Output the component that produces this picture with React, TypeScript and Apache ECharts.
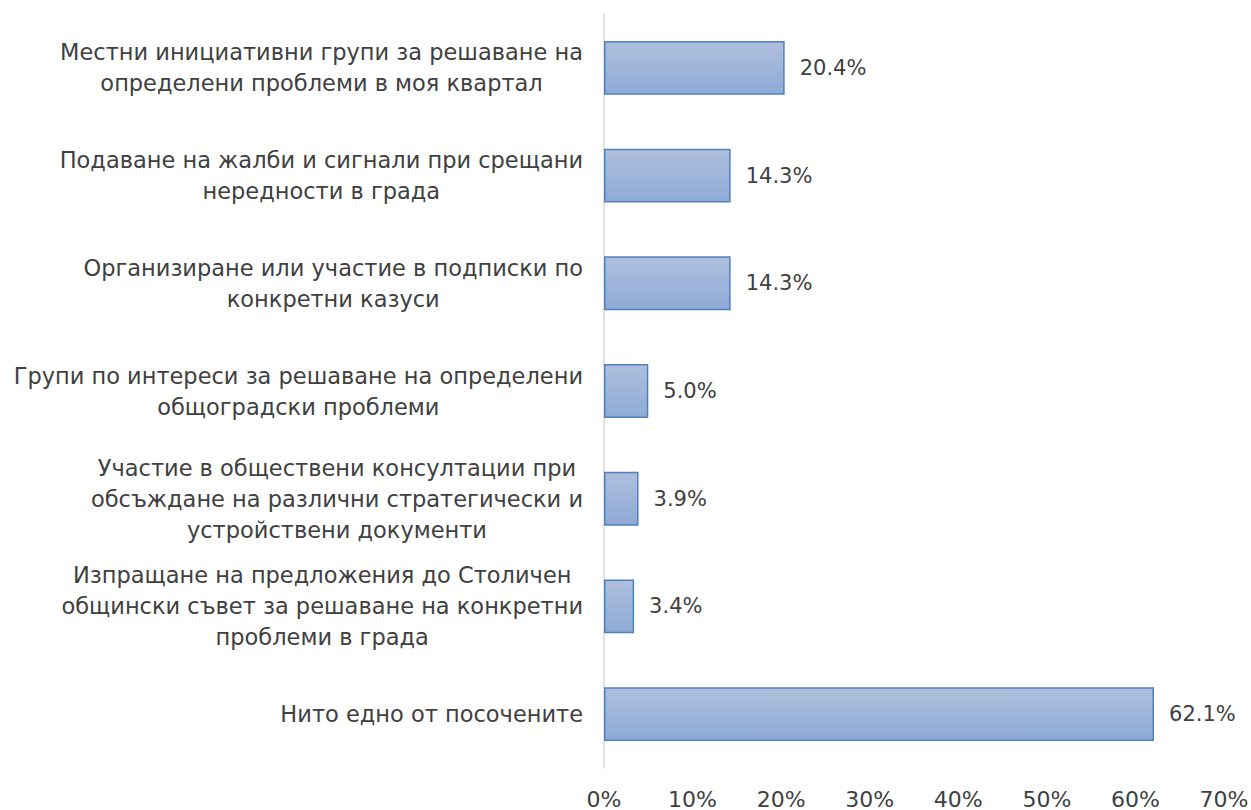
import React, { useEffect, useRef } from "react";
import * as echarts from "echarts";

const categories: string[] = [
  "Местни инициативни групи за решаване на\nопределени проблеми в моя квартал",
  "Подаване на жалби и сигнали при срещани\nнередности в града",
  "Организиране или участие в подписки по\nконкретни казуси",
  "Групи по интереси за решаване на определени\nобщоградски проблеми",
  "Участие в обществени консултации при\nобсъждане на различни стратегически и\nустройствени документи",
  "Изпращане на предложения до Столичен\nобщински съвет за решаване на конкретни\nпроблеми в града",
  "Нито едно от посочените",
];
const values: number[] = [20.4, 14.3, 14.3, 5.0, 3.9, 3.4, 62.1];
const axisMax = 70;
const axisStep = 10;

const FONT = "'DejaVu Sans', sans-serif";

export default function App() {
  const ref = useRef<HTMLDivElement>(null);
  useEffect(() => {
    if (!ref.current) return;
    const chart = echarts.init(ref.current, undefined, { renderer: "svg" });
    chart.setOption({
      animation: false,
      textStyle: { fontFamily: FONT },
      grid: { left: 604, right: 27, top: 14, bottom: 42, outerBoundsMode: "none", containLabel: false },
      xAxis: {
        type: "value",
        min: 0,
        max: axisMax,
        interval: axisStep,
        axisLine: { show: false },
        axisTick: { show: false },
        splitLine: { show: false },
        axisLabel: {
          formatter: (v: number) => v + "%",
          color: "#404040",
          fontSize: 22,
          lineHeight: 18,
          fontFamily: FONT,
          margin: 22,
        },
      },
      yAxis: {
        type: "category",
        data: categories,
        inverse: true,
        axisLine: { show: true, lineStyle: { color: "#d9d9d9", width: 1.5 } },
        axisTick: { show: false },
        axisLabel: {
          margin: 21,
          align: "right",
          formatter: (v: string) =>
            v
              .split("\n")
              .map((l) => "{c|" + l + "}")
              .join("\n"),
          rich: {
            c: {
              align: "center",
              color: "#404040",
              fontSize: 22.5,
              fontFamily: FONT,
              lineHeight: 31,
            },
          },
        },
      },
      series: [
        {
          type: "bar",
          data: values,
          barWidth: "50%",
          itemStyle: {
            color: new echarts.graphic.LinearGradient(0, 0, 0, 1, [
              { offset: 0, color: "#aebfdc" },
              { offset: 1, color: "#8eaad6" },
            ]),
            borderColor: "#4f81bd",
            borderWidth: 1.5,
          },
          label: {
            show: true,
            position: "right",
            distance: 15,
            color: "#404040",
            fontSize: 21,
            fontFamily: FONT,
            formatter: (p: any) => p.value.toFixed(1) + "%",
          },
        },
      ],
    });
    return () => chart.dispose();
  }, []);
  return (
    <div lang="bg" style={{ width: 1251, height: 810, position: "absolute", left: 0, top: 0, background: "#fff" }}>
      <div ref={ref} style={{ width: 1251, height: 810 }} />
    </div>
  );
}
